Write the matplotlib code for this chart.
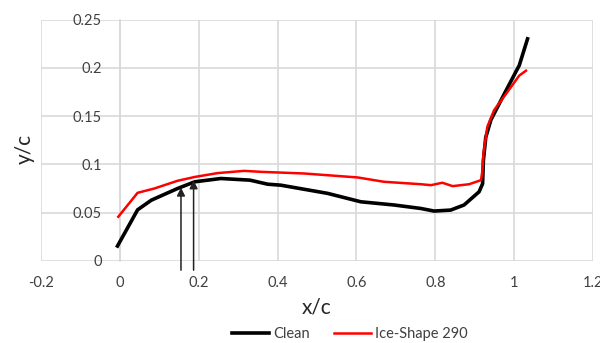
import matplotlib
matplotlib.use("Agg")
import matplotlib.pyplot as plt

# Data
clean_x = [-0.006, 0.045, 0.08, 0.146, 0.19, 0.256, 0.33, 0.375, 0.408, 0.527, 0.611,
           0.695, 0.763, 0.797, 0.839, 0.873, 0.911, 0.920, 0.922, 0.928, 0.941,
           0.975, 1.004, 1.013, 1.034]
clean_y = [0.0155, 0.053, 0.063, 0.075, 0.082, 0.0854, 0.0837, 0.0795, 0.0785, 0.070,
           0.0613, 0.058, 0.0544, 0.0517, 0.0527, 0.058, 0.0716, 0.080, 0.104, 0.128,
           0.146, 0.173, 0.1956, 0.2025, 0.230]

ice_x = [-0.004, 0.045, 0.087, 0.146, 0.19, 0.248, 0.315, 0.358, 0.467, 0.603, 0.67,
         0.763, 0.789, 0.818, 0.844, 0.886, 0.916, 0.920, 0.922, 0.932, 0.949, 0.983,
         1.013, 1.030]
ice_y = [0.0458, 0.0706, 0.075, 0.083, 0.087, 0.091, 0.0933, 0.0923, 0.0906, 0.0865,
         0.082, 0.0795, 0.0785, 0.081, 0.0775, 0.0795, 0.0837, 0.095, 0.111, 0.139,
         0.156, 0.175, 0.192, 0.197]

arrow_x = [0.155, 0.187]
arrow_tip_y = [0.076, 0.0835]
arrow_base_y = -0.0095

x_ticks = [-0.2, 0, 0.2, 0.4, 0.6, 0.8, 1, 1.2]
x_tick_labels = ["-0.2", "0", "0.2", "0.4", "0.6", "0.8", "1", "1.2"]
y_ticks = [0, 0.05, 0.1, 0.15, 0.2, 0.25]
y_tick_labels = ["0", "0.05", "0.1", "0.15", "0.2", "0.25"]

plt.rcParams["font.family"] = ["Lato", "DejaVu Sans"]

fig = plt.figure(figsize=(6, 3.43), dpi=100)
ax = fig.add_axes([41 / 600, 1 - 261 / 343, (593 - 41) / 600, (261 - 19.5) / 343])

grid_col = "#d9d9d9"
ax.set_xlim(-0.2, 1.2)
ax.set_ylim(0, 0.25)
ax.set_xticks(x_ticks)
ax.set_xticklabels(x_tick_labels)
ax.set_yticks(y_ticks)
ax.set_yticklabels(y_tick_labels)
ax.grid(True, color=grid_col, linewidth=1.2)
ax.set_axisbelow(True)
for s in ["top", "right", "bottom"]:
    ax.spines[s].set_visible(False)
ax.spines["left"].set_position(("data", 0))
ax.spines["left"].set_color(grid_col)
ax.spines["left"].set_linewidth(1.2)
ax.tick_params(axis="both", length=0, labelsize=10.5, labelcolor="#404040")
ax.tick_params(axis="y", pad=13)
ax.tick_params(axis="x", pad=11)

ax.plot(clean_x, clean_y, color="black", linewidth=2.6, label="Clean",
        solid_joinstyle="round", zorder=3)
ax.plot(ice_x, ice_y, color="#ff0000", linewidth=1.8, label="Ice-Shape 290",
        solid_joinstyle="round", zorder=4)

for xa, yt in zip(arrow_x, arrow_tip_y):
    ax.annotate("", xy=(xa, yt), xytext=(xa, arrow_base_y),
                xycoords="data", textcoords="data", annotation_clip=False,
                arrowprops=dict(arrowstyle="-|>", color="#222222", lw=1.1,
                                mutation_scale=12, shrinkA=0, shrinkB=0),
                zorder=5)

fig.text(25 / 600, 1 - 149 / 343, "y/c", rotation=90, ha="center", va="center",
         fontsize=15, color="#262626")
fig.text(317 / 600, 1 - 307 / 343, "x/c", ha="center", va="center",
         fontsize=15, color="#262626")

fig.legend(loc="center", bbox_to_anchor=(350 / 600, 1 - 334 / 343), ncol=2,
           frameon=False, fontsize=10.5, handlelength=2.5, handletextpad=0.3,
           columnspacing=1.7, labelcolor="#404040")

fig.savefig("out.png", dpi=100)
